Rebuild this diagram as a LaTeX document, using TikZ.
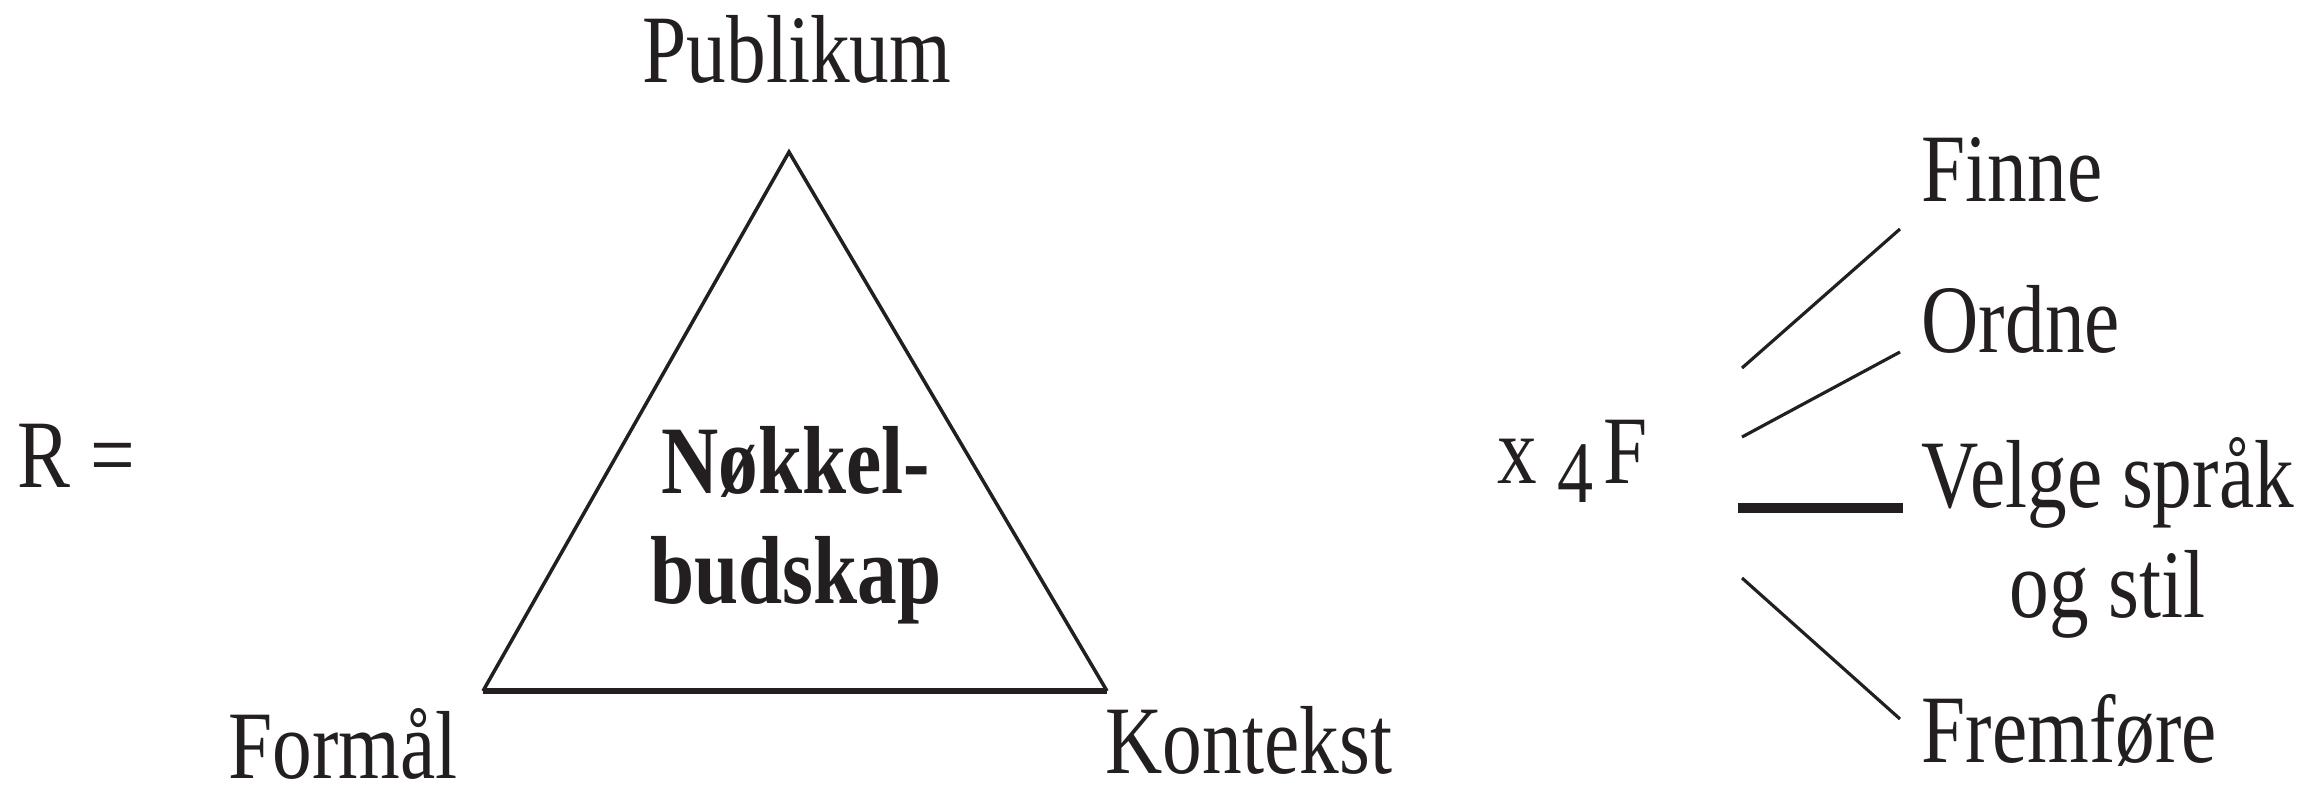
\documentclass[tikz,border=0pt]{standalone}
\usepackage{fontspec}
\setmainfont{Liberation Serif}[FakeStretch=0.82]
\definecolor{ink}{HTML}{231F20}

\begin{document}
\begin{tikzpicture}[x=0.01cm,y=-0.01cm,
  lbl/.style={inner sep=0pt,text=ink,font=\fontsize{27.5}{31.3}\selectfont},
  keylbl/.style={inner sep=0pt,text=ink,font=\fontsize{27.5}{31.3}\selectfont\bfseries},
  side/.style={draw=ink,line width=1pt},
  branch/.style={draw=ink,line width=0.9pt}]
\useasboundingbox (0,0) rectangle (2302,785);
% triangle
\coordinate (A) at (789,152);
\coordinate (B) at (483,691);
\coordinate (C) at (1107,691);
\draw[side,line join=miter] (B)--(A)--(C);
\draw[draw=ink,line width=1.8pt] (B)--(C);
\node[lbl,anchor=base] (pub) at (797,83) {Publikum};
\node[lbl,anchor=base west] (form) at (228,778) {Formål};
\node[lbl,anchor=base west] (kont) at (1105,773) {Kontekst};
\node[keylbl,align=center] (key) at (796,525) {Nøkkel-\\budskap};
\node[lbl,anchor=base west] (R) at (17,488) {R =};
% the four F
\node[lbl,anchor=base west] (x4F) at (1497,483) {x \raisebox{-5.5pt}{\fontsize{25}{25}\selectfont 4}\kern3pt F};
\node[lbl,anchor=base west] (finne) at (1921,202) {Finne};
\node[lbl,anchor=base west] (ordne) at (1921,353) {Ordne};
\node[lbl,align=center,anchor=west] (velge) at (1921,538) {Velge språk\\og stil};
\node[lbl,anchor=base west] (frem) at (1921,762) {Fremføre};
\foreach \n/\a/\b in {finne/368/229,ordne/437/352,frem/578/719}
  {\coordinate (\n-s) at (1742,\a);
   \coordinate (\n-e) at (1900,\b);
   \draw[branch] (\n-s)--(\n-e);}
\coordinate (velge-s) at (1738,508);
\coordinate (velge-e) at (1903,508);
\draw[draw=ink,line width=2.85pt] (velge-s)--(velge-e);
\end{tikzpicture}
\end{document}
